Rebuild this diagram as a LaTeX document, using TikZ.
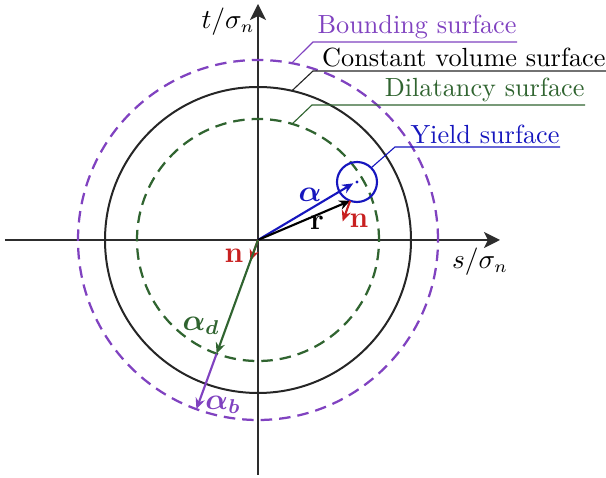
\documentclass[tikz,border=0pt]{standalone}
\usepackage{amsmath,amssymb}
\usepackage{xcolor}
\usepackage{tikz}
\usetikzlibrary{arrows.meta,positioning,calc}
\definecolor{boundpurple}{RGB}{128,66,192}
\definecolor{dilgreen}{RGB}{48,100,48}
\definecolor{yieldblue}{RGB}{22,22,190}
\definecolor{normred}{RGB}{200,32,32}
\definecolor{axisgray}{RGB}{45,45,45}
\tikzset{
  axis/.style={line width=0.7pt,draw=axisgray,-{Stealth[length=6.4pt,width=6.4pt,inset=1.6pt]}},
  vec/.style={-{Stealth[length=4.4pt,width=3.8pt]},line width=0.85pt},
  leader/.style={line width=0.45pt}
}

\begin{document}
\begin{tikzpicture}[
  x=0.4pt,y=0.4pt,
  font=\fontsize{10.5}{12.6}\selectfont,
  surfsolid/.style={
    line width=.8pt,
    draw=black!85
  },
  surfdash/.style={
    line width=.9pt,
    dash pattern=on 4.6pt off 2.8pt
  },
  surflabel/.style={
    anchor=south east,
    inner xsep=0pt,
    inner ysep=1.2pt
  },
  veclabel/.style={
    font=\fontsize{12}{14}\selectfont
  }
]

\useasboundingbox (-258,-238) rectangle (348,240);

% axes
\coordinate (O)     at (0,0);
\coordinate (Sleft) at (-253,0);
\coordinate (Sright) at (242,0);
\coordinate (Tdown) at (0,-235);
\coordinate (Tup)   at (0,236);

\draw[axis] (Sleft)--(Sright);
\draw[axis] (Tdown)--(Tup);

\node (tlabel) at (-30,218) {$t/\sigma_n$};
\node (slabel) at (222,-22) {$s/\sigma_n$};

% surfaces
\draw[surfdash,draw=boundpurple] (O) circle (180);
\draw[surfsolid] (O) circle (153);
\draw[surfdash,draw=dilgreen] (O) circle (121);

\coordinate (Yc) at (99,58);
\draw[line width=.85pt,draw=yieldblue] (Yc) circle (20);
\fill[yieldblue] (Yc) circle (1.6);

% vectors
\coordinate (P)    at ($(Yc)+(250:20)$);
\coordinate (Pn)   at ($(P)+(250:22)$);
\coordinate (On)   at (250:22);
\coordinate (Ad)   at (250:121);
\coordinate (Ab)   at (250:180);

\draw[vec,draw=yieldblue] (O)--($(Yc)+(200:4)$);
\draw[vec,draw=black] (O)--(P);
\draw[vec,draw=normred] (P)--(Pn);
\draw[vec,draw=normred] (O)--(On);
\draw[vec,draw=dilgreen] (O)--(Ad);
\draw[vec,draw=boundpurple] (Ad)--(Ab);

\node[veclabel,text=yieldblue] (alabel) at (52,45) {$\boldsymbol{\alpha}$};
\node[veclabel] (rlabel) at (59,17) {$\mathbf{r}$};
\node[veclabel,text=normred] (nlabel) at (101,19) {$\mathbf{n}$};
\node[veclabel,text=normred] (nolabel) at (-24,-16) {$\mathbf{n}$};
\node[veclabel,text=dilgreen] (adlabel) at (-57,-86) {$\boldsymbol{\alpha_d}$};
\node[veclabel,text=boundpurple] (ablabel) at (-35,-165) {$\boldsymbol{\alpha_b}$};

% leaders
\coordinate (Bpt)  at (79.2:180);
\coordinate (Bcor) at (55,198);
\coordinate (Bend) at (259,198);
\draw[leader,draw=boundpurple] (Bpt)--(Bcor)--(Bend);
\node[surflabel,text=boundpurple] (bsurf) at (Bend) {Bounding surface};

\coordinate (Cpt)  at (77.2:153);
\coordinate (Ccor) at (55,169);
\coordinate (Cend) at (348,169);
\draw[leader,draw=black!85] (Cpt)--(Ccor)--(Cend);
\node[surflabel] (csurf) at (Cend) {Constant volume surface};

\coordinate (Dpt)  at (73.6:121);
\coordinate (Dcor) at (54,135);
\coordinate (Dend) at (327,135);
\draw[leader,draw=dilgreen] (Dpt)--(Dcor)--(Dend);
\node[surflabel,text=dilgreen] (dsurf) at (Dend) {Dilatancy surface};

\coordinate (Ypt)  at ($(Yc)+(45:20)$);
\coordinate (Ycor) at (137,93);
\coordinate (Yend) at (302,93);
\draw[leader,draw=yieldblue] (Ypt)--(Ycor)--(Yend);
\node[surflabel,text=yieldblue] (ysurf) at (Yend) {Yield surface};

\end{tikzpicture}
\end{document}
